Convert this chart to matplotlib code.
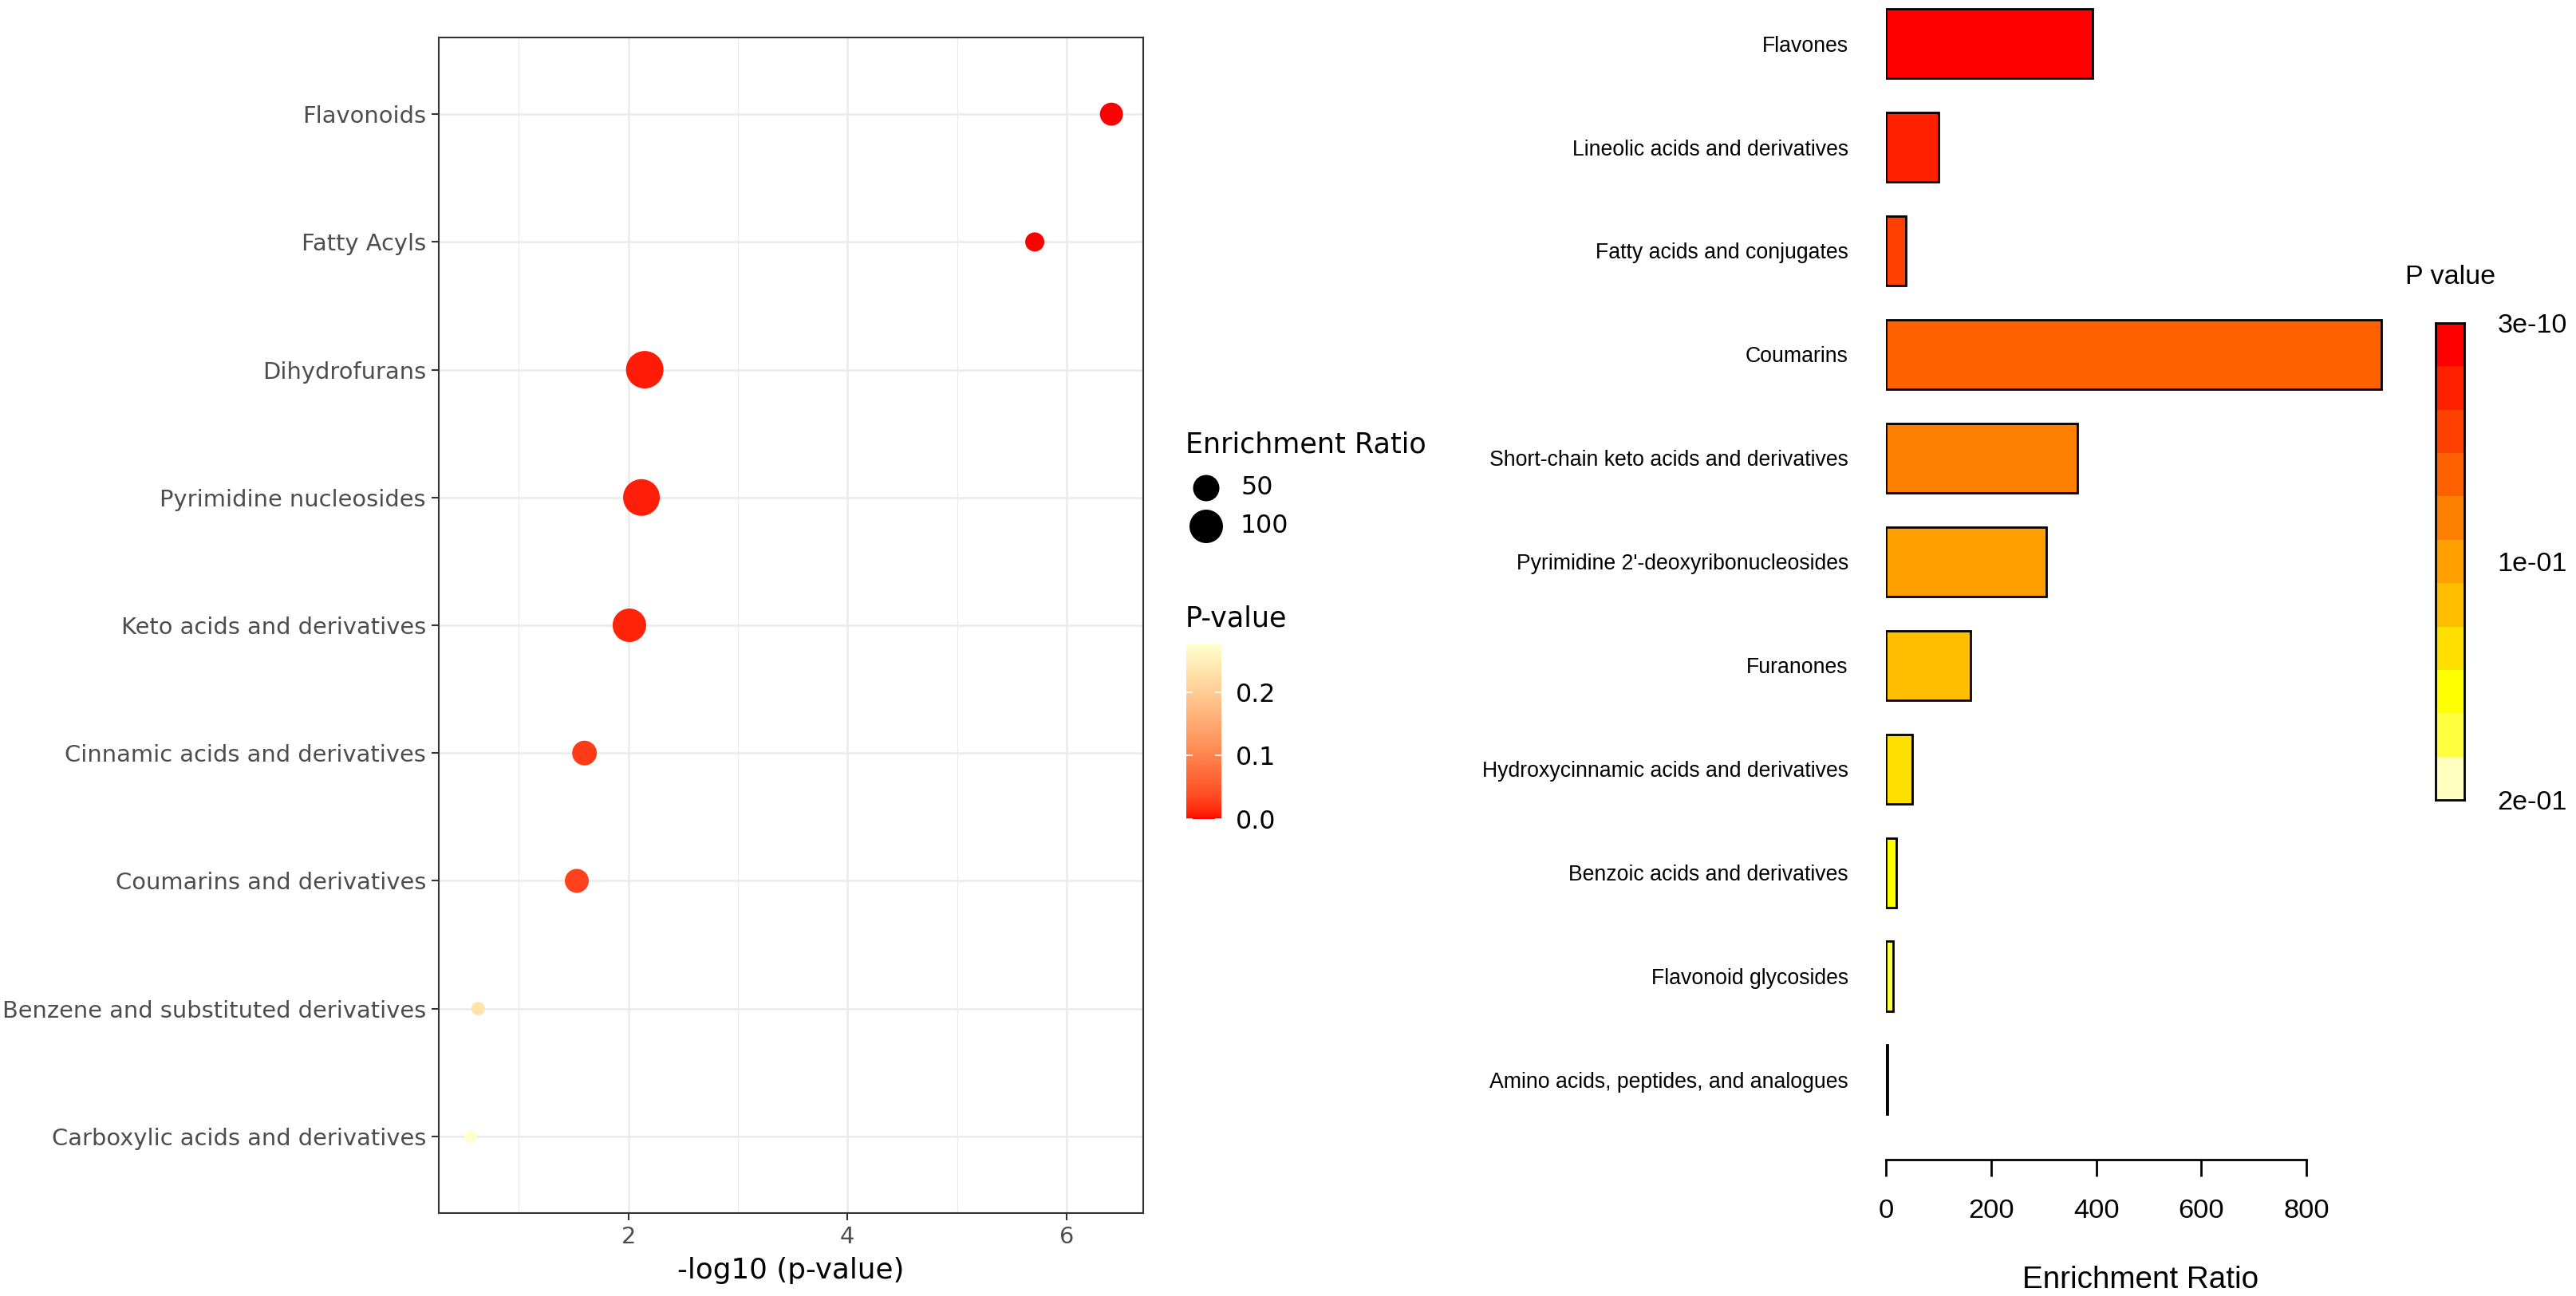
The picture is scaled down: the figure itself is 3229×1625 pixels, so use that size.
"""Enrichment dot plot (left) and enrichment bar chart (right)."""

import colorsys

import numpy as np
import matplotlib
matplotlib.use("Agg")
import matplotlib.pyplot as plt
from matplotlib.colors import ListedColormap, to_rgb
from matplotlib.transforms import blended_transform_factory

# ---- data: left panel (dot plot) ----
dot_classes = [
    "Flavonoids",
    "Fatty Acyls",
    "Dihydrofurans",
    "Pyrimidine nucleosides",
    "Keto acids and derivatives",
    "Cinnamic acids and derivatives",
    "Coumarins and derivatives",
    "Benzene and substituted derivatives",
    "Carboxylic acids and derivatives",
]
neg_log10_p = [6.41, 5.71, 2.15, 2.12, 2.01, 1.60, 1.53, 0.63, 0.56]
dot_enrichment = [33, 17, 135, 128, 100, 41, 37, 3.4, 2.3]
size_breaks = [50, 100]
pval_breaks = [0.0, 0.1, 0.2]

# ---- data: right panel (bar chart) ----
bar_classes = [
    "Flavones",
    "Lineolic acids and derivatives",
    "Fatty acids and conjugates",
    "Coumarins",
    "Short-chain keto acids and derivatives",
    "Pyrimidine 2'-deoxyribonucleosides",
    "Furanones",
    "Hydroxycinnamic acids and derivatives",
    "Benzoic acids and derivatives",
    "Flavonoid glycosides",
    "Amino acids, peptides, and analogues",
]
bar_ratio = [393, 100, 38, 942, 364, 305, 161, 50, 20, 13, 3]
bar_color_bin = [0, 1, 2, 3, 4, 5, 6, 7, 8, 9, 10]
bar_xticks = [0, 200, 400, 600, 800]
bar_pval_labels = ["3e-10", "1e-01", "2e-01"]

W, H, DPI = 3229, 1625, 200


def lab_ramp(c0, c1, n=256):
    """Gradient interpolated in CIE Lab, like ggplot's scale_colour_gradient."""
    M = np.array([[0.4124, 0.3576, 0.1805],
                  [0.2126, 0.7152, 0.0722],
                  [0.0193, 0.1192, 0.9505]])
    white = np.array([0.95047, 1.0, 1.08883])

    def to_lab(c):
        rgb = np.array(to_rgb(c))
        lin = np.where(rgb <= 0.04045, rgb / 12.92, ((rgb + 0.055) / 1.055) ** 2.4)
        xyz = M @ lin / white
        f = np.where(xyz > 0.008856, np.cbrt(xyz), 7.787 * xyz + 16 / 116)
        return np.array([116 * f[1] - 16, 500 * (f[0] - f[1]), 200 * (f[1] - f[2])])

    t = np.linspace(0, 1, n)[:, None]
    lab = to_lab(c0) * (1 - t) + to_lab(c1) * t
    fy = (lab[:, 0] + 16) / 116
    f = np.stack([fy + lab[:, 1] / 500, fy, fy - lab[:, 2] / 200], axis=1)
    xyz = np.where(f ** 3 > 0.008856, f ** 3, (f - 16 / 116) / 7.787) * white
    lin = np.clip(xyz @ np.linalg.inv(M).T, 0, None)
    rgb = np.where(lin <= 0.0031308, 12.92 * lin, 1.055 * lin ** (1 / 2.4) - 0.055)
    return ListedColormap(np.clip(rgb, 0, 1))


def heat_colors(n):
    """R's heat.colors(n)."""
    j = n // 4
    i = n - j
    cols = [colorsys.hsv_to_rgb(h, 1, 1) for h in np.linspace(0, 1 / 6, i)]
    sats = np.linspace(1 - 1 / (2 * j), 1 / (2 * j), j)
    cols += [colorsys.hsv_to_rgb(1 / 6, s, 1) for s in sats]
    return cols


def dot_size(er):
    """Marker area (pt^2) for an enrichment ratio."""
    d_px = 11.3 + 3.07 * np.sqrt(np.asarray(er, dtype=float))
    return (d_px * 72 / DPI) ** 2


fig = plt.figure(figsize=(W / DPI, H / DPI), dpi=DPI)

# ================= left: dot plot =================
ax = fig.add_axes([550 / W, 1 - 1521 / H, 883 / W, 1474 / H])
n = len(dot_classes)
ypos = np.arange(n)
pvals = 10 ** (-np.array(neg_log10_p))
cmap_p = lab_ramp("red", "#FFFFCC")

sc = ax.scatter(neg_log10_p, ypos, s=dot_size(dot_enrichment), c=pvals,
                cmap=cmap_p, vmin=0, vmax=pvals.max(), edgecolors="none", zorder=3)

ax.set_ylim(n - 1 + 0.6, -0.6)
ax.set_xlim(0.27, 6.70)
ax.set_yticks(ypos, dot_classes)
ax.set_xticks([2, 4, 6])
ax.set_xticks([1, 3, 5], minor=True)
ax.set_axisbelow(True)
ax.grid(which="major", color="#EBEBEB", linewidth=0.9)
ax.grid(which="minor", axis="x", color="#EBEBEB", linewidth=0.45)
for sp in ax.spines.values():
    sp.set_color("#333333")
    sp.set_linewidth(0.75)
ax.tick_params(which="major", length=3.3, width=0.75, color="#333333",
               labelsize=10.4, labelcolor="#4D4D4D", pad=2.5)
ax.tick_params(which="minor", length=0)
ax.set_xlabel("-log10 (p-value)", fontsize=12.9, labelpad=4)

# legends drawn on a pixel-coordinate overlay
lax = fig.add_axes([0, 0, 1, 1])
lax.set_xlim(0, W)
lax.set_ylim(H, 0)
lax.axis("off")
lax.text(1486, 558, "Enrichment Ratio", fontsize=12.6, ha="left", va="center")
for k, br in enumerate(size_breaks):
    yk = 612 + 48 * k
    lax.scatter([1512], [yk], s=dot_size(br), color="black", edgecolors="none")
    lax.text(1555, yk, str(br), fontsize=11.4, ha="left", va="center")
lax.text(1486, 775, "P-value", fontsize=12.6, ha="left", va="center")

cax = fig.add_axes([1487 / W, 1 - 1027 / H, 44 / W, 219 / H])
cb = fig.colorbar(sc, cax=cax, ticks=pval_breaks)
cb.outline.set_visible(False)
cb.ax.yaxis.set_ticks_position("both")
cb.ax.tick_params(direction="in", length=3.0, width=0.6, color="white",
                  labelsize=11.4, pad=6.5, labelleft=False, labelright=True)
cb.ax.set_yticklabels([f"{v:.1f}" for v in pval_breaks])

# ================= right: bar chart =================
heat = heat_colors(11)
bar_cols = [heat[b] for b in bar_color_bin]
x_scale = 0.659  # px per unit
rax = fig.add_axes([2364 / W, 1 - 1454 / H, 960 * x_scale / W, 1454 / H])
m = len(bar_classes)
bpos = np.arange(m)
rax.barh(bpos, bar_ratio, height=0.67, color=bar_cols, edgecolor="black",
         linewidth=1.0)
rax.set_xlim(0, 960)
rax.set_ylim(m - 1 + 0.77, -0.42)
rax.set_yticks(bpos, bar_classes, fontsize=9.6, family="Liberation Sans")
rax.set_xticks(bar_xticks)
rax.set_xticklabels([str(v) for v in bar_xticks], fontsize=12.4,
                    family="Liberation Sans")
for side in ("top", "right", "left"):
    rax.spines[side].set_visible(False)
rax.spines["bottom"].set_bounds(0, 800)
rax.spines["bottom"].set_linewidth(1.0)
rax.tick_params(axis="y", left=False, pad=13.5)
rax.tick_params(axis="x", length=7.6, width=1.0, pad=10)
rax.patch.set_visible(False)
trans = blended_transform_factory(rax.transData, rax.transAxes)
rax.text(484, -0.104, "Enrichment Ratio", transform=trans, ha="center",
         va="center", fontsize=13.9, family="Liberation Sans")

# discrete heat colour key
kax = fig.add_axes([3053 / W, 1 - 1003 / H, 36 / W, 598 / H])
kax.pcolormesh([0, 1], np.arange(12), np.arange(11)[:, None],
               cmap=ListedColormap(heat), shading="flat")
kax.set_xlim(0, 1)
kax.set_ylim(11, 0)
kax.set_xticks([])
kax.yaxis.tick_right()
kax.set_yticks([0, 5.5, 11], bar_pval_labels, fontsize=12.3,
               family="Liberation Sans")
kax.tick_params(axis="y", length=0, pad=15)
for sp in kax.spines.values():
    sp.set_linewidth(1.0)
fig.text(3015 / W, 1 - 348 / H, "P value", fontsize=12.3,
         family="Liberation Sans", ha="left", va="center")

fig.savefig("out.png", dpi=DPI)
